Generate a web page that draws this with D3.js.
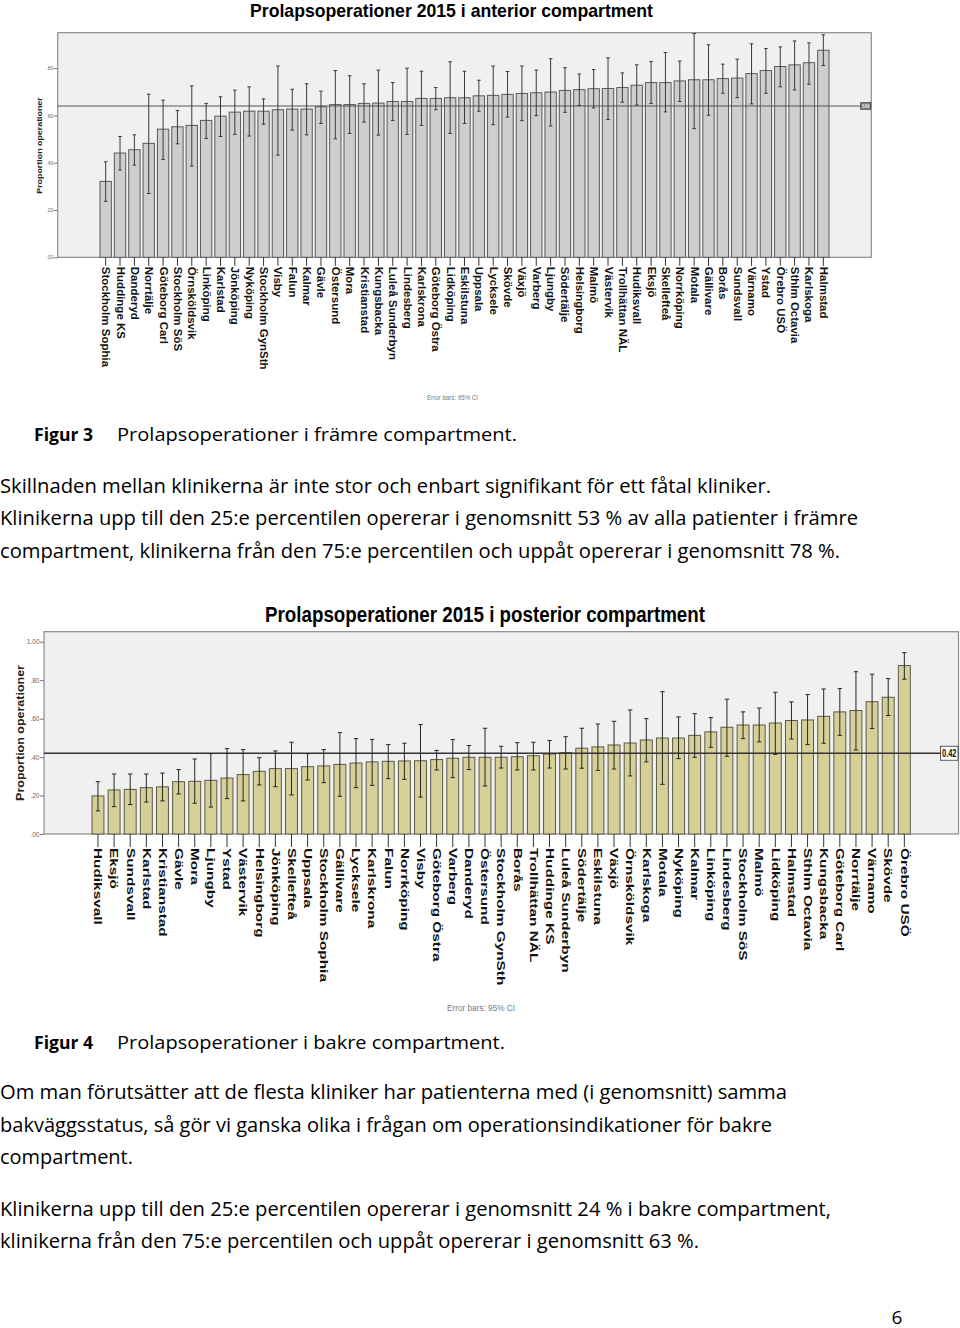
<!DOCTYPE html>
<html>
<head>
<meta charset="utf-8">
<script src="https://cdn.jsdelivr.net/npm/d3@7"></script>
<style>
  body { margin: 0; background: #fff; }
  svg { display: block; }
</style>
</head>
<body>
<svg width="960" height="1328"></svg>
<script>
////////////////////////////// DATA //////////////////////////////

// Figur 3 -- anterior compartment, sorted as in the picture
var antClinics = ['Stockholm Sophia', 'Huddinge KS', 'Danderyd', 'Norrtälje', 'Göteborg Carl', 'Stockholm SöS',
  'Örnsköldsvik', 'Linköping', 'Karlstad', 'Jönköping', 'Nyköping', 'Stockholm GynSth', 'Visby', 'Falun',
  'Kalmar', 'Gävle', 'Östersund', 'Mora', 'Kristianstad', 'Kungsbacka', 'Luleå Sunderbyn', 'Lindesberg',
  'Karlskrona', 'Göteborg Östra', 'Lidköping', 'Eskilstuna', 'Uppsala', 'Lycksele', 'Skövde', 'Växjö',
  'Varberg', 'Ljungby', 'Södertälje', 'Helsingborg', 'Malmö', 'Västervik', 'Trollhättan NÄL', 'Hudiksvall',
  'Eksjö', 'Skellefteå', 'Norrköping', 'Motala', 'Gällivare', 'Borås', 'Sundsvall', 'Värnamo', 'Ystad',
  'Örebro USÖ', 'Sthlm Octavia', 'Karlskoga', 'Halmstad'];
var antMean = [0.321, 0.441, 0.455, 0.482, 0.542, 0.552, 0.558, 0.579, 0.597, 0.614, 0.618, 0.618, 0.624,
  0.627, 0.627, 0.637, 0.646, 0.646, 0.651, 0.652, 0.659, 0.659, 0.672, 0.672, 0.675, 0.675, 0.683, 0.685,
  0.689, 0.693, 0.696, 0.699, 0.706, 0.709, 0.713, 0.714, 0.718, 0.728, 0.739, 0.739, 0.746, 0.751, 0.751,
  0.756, 0.758, 0.777, 0.790, 0.807, 0.814, 0.823, 0.876];
var antLow = [0.237, 0.369, 0.390, 0.270, 0.414, 0.480, 0.386, 0.503, 0.511, 0.520, 0.513, 0.563, 0.432,
  0.538, 0.518, 0.566, 0.501, 0.524, 0.572, 0.517, 0.579, 0.520, 0.558, 0.624, 0.524, 0.566, 0.618, 0.561,
  0.593, 0.578, 0.599, 0.555, 0.613, 0.642, 0.632, 0.583, 0.656, 0.644, 0.651, 0.615, 0.659, 0.544, 0.601,
  0.694, 0.675, 0.649, 0.694, 0.721, 0.708, 0.732, 0.811];
var antHigh = [0.404, 0.511, 0.518, 0.690, 0.665, 0.621, 0.725, 0.651, 0.679, 0.707, 0.721, 0.670, 0.809,
  0.711, 0.734, 0.703, 0.790, 0.768, 0.734, 0.792, 0.739, 0.800, 0.787, 0.718, 0.827, 0.787, 0.749, 0.809,
  0.786, 0.809, 0.792, 0.840, 0.802, 0.775, 0.794, 0.844, 0.780, 0.814, 0.828, 0.866, 0.830, 0.946, 0.899,
  0.817, 0.838, 0.903, 0.883, 0.890, 0.915, 0.907, 0.941];
var antTicks = [0, 0.2, 0.4, 0.6, 0.8];
var antRef = 0.64;

// Figur 4 -- posterior compartment
var postClinics = ['Hudiksvall', 'Eksjö', 'Sundsvall', 'Karlstad', 'Kristianstad', 'Gävle', 'Mora', 'Ljungby',
  'Ystad', 'Västervik', 'Helsingborg', 'Jönköping', 'Skellefteå', 'Uppsala', 'Stockholm Sophia', 'Gällivare',
  'Lycksele', 'Karlskrona', 'Falun', 'Norrköping', 'Visby', 'Göteborg Östra', 'Varberg', 'Danderyd',
  'Östersund', 'Stockholm GynSth', 'Borås', 'Trollhättan NÄL', 'Huddinge KS', 'Luleå Sunderbyn', 'Södertälje',
  'Eskilstuna', 'Växjö', 'Örnsköldsvik', 'Karlskoga', 'Motala', 'Nyköping', 'Kalmar', 'Linköping',
  'Lindesberg', 'Stockholm SöS', 'Malmö', 'Lidköping', 'Halmstad', 'Sthlm Octavia', 'Kungsbacka',
  'Göteborg Carl', 'Norrtälje', 'Värnamo', 'Skövde', 'Örebro USÖ'];
var postMean = [0.198, 0.229, 0.232, 0.241, 0.245, 0.272, 0.274, 0.279, 0.291, 0.309, 0.326, 0.340, 0.340,
  0.350, 0.354, 0.362, 0.369, 0.375, 0.378, 0.380, 0.381, 0.387, 0.394, 0.399, 0.399, 0.399, 0.402, 0.407,
  0.416, 0.423, 0.446, 0.453, 0.463, 0.473, 0.489, 0.499, 0.499, 0.513, 0.531, 0.555, 0.567, 0.567, 0.577,
  0.590, 0.593, 0.612, 0.635, 0.642, 0.688, 0.711, 0.876];
var postLow = [0.120, 0.142, 0.153, 0.166, 0.172, 0.208, 0.160, 0.140, 0.184, 0.172, 0.255, 0.246, 0.203,
  0.281, 0.267, 0.196, 0.241, 0.253, 0.288, 0.284, 0.192, 0.333, 0.293, 0.335, 0.250, 0.343, 0.333, 0.333,
  0.343, 0.338, 0.342, 0.331, 0.338, 0.302, 0.375, 0.258, 0.392, 0.399, 0.451, 0.404, 0.496, 0.479, 0.414,
  0.494, 0.465, 0.472, 0.513, 0.437, 0.548, 0.616, 0.805];
var postHigh = [0.272, 0.312, 0.312, 0.312, 0.317, 0.335, 0.390, 0.418, 0.444, 0.439, 0.397, 0.432, 0.477,
  0.418, 0.439, 0.527, 0.496, 0.492, 0.465, 0.472, 0.569, 0.435, 0.491, 0.460, 0.550, 0.456, 0.475, 0.477,
  0.486, 0.506, 0.550, 0.572, 0.586, 0.645, 0.600, 0.740, 0.609, 0.626, 0.605, 0.701, 0.635, 0.655, 0.737,
  0.687, 0.725, 0.754, 0.756, 0.844, 0.831, 0.808, 0.943];
var postTicks = [0, 0.2, 0.4, 0.6, 0.8, 1.0];
var postRef = 0.42;

// running text of the page
var bodyLines = [
  {t: 'Skillnaden mellan klinikerna är inte stor och enbart signifikant för ett fåtal kliniker.', y: 493, w: 771},
  {t: 'Klinikerna upp till den 25:e percentilen opererar i genomsnitt 53 % av alla patienter i främre', y: 525, w: 858},
  {t: 'compartment, klinikerna från den 75:e percentilen och uppåt opererar i genomsnitt 78 %.', y: 558, w: 840},
  {t: 'Om man förutsätter att de flesta kliniker har patienterna med (i genomsnitt) samma', y: 1099, w: 787},
  {t: 'bakväggsstatus, så gör vi ganska olika i frågan om operationsindikationer för bakre', y: 1132, w: 772},
  {t: 'compartment.', y: 1164, w: 133},
  {t: 'Klinikerna upp till den 25:e percentilen opererar i genomsnitt 24 % i bakre compartment,', y: 1216, w: 831},
  {t: 'klinikerna från den 75:e percentilen och uppåt opererar i genomsnitt 63 %.', y: 1248, w: 699}
];

var svg = d3.select('svg');
var chartFont = '"Liberation Sans", Arial, sans-serif';
var textFont = '"Open Sans", "Noto Sans", sans-serif';

////////////////////////////// CHART //////////////////////////////

function drawChart(c) {
  var data = c.clinics.map(function(name, i) {
    return {name: name, mean: c.mean[i], low: c.low[i], high: c.high[i]};
  });

  var x = d3.scaleBand().domain(c.clinics).range(c.xRange)
      .paddingInner(c.pad).paddingOuter(c.pad / 2);
  var y = d3.scaleLinear().domain([0, c.yMax]).range([c.box.bottom, c.box.top]);

  var g = svg.append('g');

  // title
  g.append('text')
    .attr('x', c.titleX).attr('y', c.titleY)
    .attr('text-anchor', 'middle')
    .attr('font-family', chartFont).attr('font-weight', 'bold')
    .attr('font-size', c.titleSize)
    .attr('textLength', c.titleW).attr('lengthAdjust', 'spacingAndGlyphs')
    .text(c.title);

  // plot frame
  g.append('rect')
    .attr('x', c.box.left).attr('y', c.box.top)
    .attr('width', c.box.right - c.box.left).attr('height', c.box.bottom - c.box.top)
    .attr('fill', '#f0f0f0').attr('stroke', '#8c8c8c').attr('stroke-width', 1.2);

  // y axis
  var yAxis = g.append('g')
    .attr('transform', 'translate(' + c.box.left + ',0)')
    .call(d3.axisLeft(y).tickValues(c.ticks).tickSize(4)
      .tickFormat(function(d) { return d3.format('.2f')(d).replace(/^0/, ''); }));
  yAxis.select('.domain').remove();
  yAxis.selectAll('line').attr('stroke', '#777');
  yAxis.selectAll('text').attr('font-family', chartFont).attr('font-size', c.tickSize)
    .attr('fill', '#666').attr('x', -4.5);

  // y label
  g.append('text')
    .attr('transform', 'translate(' + c.yLabX + ',' + c.yLabY + ') rotate(-90) scale(' + c.yLabScale + ',1)')
    .attr('text-anchor', 'middle').attr('dy', '0.35em')
    .attr('font-family', chartFont).attr('font-weight', 'bold').attr('font-size', c.yLabSize)
    .attr('fill', '#222')
    .text('Proportion operationer');

  // bars
  g.selectAll('.bar').data(data).enter().append('rect')
    .attr('class', 'bar')
    .attr('x', function(d) { return x(d.name); })
    .attr('width', x.bandwidth())
    .attr('y', function(d) { return y(d.mean); })
    .attr('height', function(d) { return y(0) - y(d.mean); })
    .attr('fill', c.fill).attr('stroke', c.stroke).attr('stroke-width', 1);

  // reference line
  g.append('line')
    .attr('x1', c.box.left).attr('x2', c.box.right)
    .attr('y1', y(c.ref)).attr('y2', y(c.ref))
    .attr('stroke', c.refColor).attr('stroke-width', c.refWidth);

  // reference label box
  var rb = g.append('g').attr('transform', 'translate(' + c.refBoxX + ',' + y(c.ref) + ')');
  rb.append('rect')
    .attr('x', 0).attr('y', -c.refBoxH / 2)
    .attr('width', c.refBoxW).attr('height', c.refBoxH)
    .attr('fill', c.refBoxFill).attr('stroke', '#333').attr('stroke-width', 0.8);
  rb.append('text')
    .attr('x', c.refBoxW / 2).attr('y', 0).attr('dy', '0.35em')
    .attr('text-anchor', 'middle')
    .attr('font-family', chartFont).attr('font-weight', 'bold').attr('font-size', c.refBoxFont)
    .attr('fill', c.refBoxText)
    .attr('textLength', c.refBoxW - 3).attr('lengthAdjust', 'spacingAndGlyphs')
    .text(d3.format('.2f')(c.ref));

  // error bars
  var eb = g.selectAll('.err').data(data).enter().append('g')
    .attr('class', 'err')
    .attr('transform', function(d) { return 'translate(' + (x(d.name) + x.bandwidth() / 2) + ',0)'; })
    .attr('stroke', c.errColor).attr('stroke-width', 1);
  eb.append('line').attr('y1', function(d) { return y(d.low); }).attr('y2', function(d) { return y(d.high); });
  eb.append('line').attr('x1', -c.cap).attr('x2', c.cap)
    .attr('y1', function(d) { return y(d.low); }).attr('y2', function(d) { return y(d.low); });
  eb.append('line').attr('x1', -c.cap).attr('x2', c.cap)
    .attr('y1', function(d) { return y(d.high); }).attr('y2', function(d) { return y(d.high); });

  // x axis with rotated clinic names
  var xAxis = g.append('g')
    .attr('transform', 'translate(0,' + c.box.bottom + ')')
    .call(d3.axisBottom(x).tickSize(c.xTick).tickSizeOuter(0).tickFormat(''));
  xAxis.select('.domain').remove();
  xAxis.selectAll('line').attr('stroke', '#333');

  g.selectAll('.xlab').data(data).enter().append('text')
    .attr('class', 'xlab')
    .attr('transform', function(d) {
      return 'translate(' + (x(d.name) + x.bandwidth() / 2) + ',' + (c.box.bottom + c.xTick + 1) +
        ') rotate(90) scale(' + c.xLabScale + ',1)';
    })
    .attr('dy', '0.35em')
    .attr('font-family', chartFont).attr('font-weight', 'bold').attr('font-size', c.xLabSize)
    .attr('fill', '#111')
    .text(function(d) { return d.name; });

  // footnote
  g.append('text')
    .attr('x', c.noteX).attr('y', c.noteY)
    .attr('font-family', chartFont).attr('font-size', c.noteSize).attr('fill', '#777')
    .attr('textLength', c.noteW).attr('lengthAdjust', 'spacingAndGlyphs')
    .text('Error bars: 95% CI');
}

drawChart({
  title: 'Prolapsoperationer 2015 i anterior compartment',
  titleX: 451.5, titleY: 17, titleSize: 18.5, titleW: 403,
  clinics: antClinics, mean: antMean, low: antLow, high: antHigh, ticks: antTicks, ref: antRef,
  box: {left: 57.7, right: 871.3, top: 32.7, bottom: 257.3},
  xRange: [98.5, 830.5], pad: 0.21, yMax: 0.95,
  fill: '#cecece', stroke: '#5a5a5a', errColor: '#3a3a3a', cap: 1.8,
  refColor: '#555', refWidth: 1,
  refBoxX: 860.7, refBoxW: 10, refBoxH: 6.5, refBoxFill: '#8a8a8a', refBoxText: '#eee', refBoxFont: 5.5,
  tickSize: 5, yLabX: 39, yLabY: 145.5, yLabSize: 7.4, yLabScale: 1.2,
  xTick: 8.5, xLabSize: 10, xLabScale: 1.15,
  noteX: 427, noteY: 399.5, noteSize: 6.5, noteW: 51
});

drawChart({
  title: 'Prolapsoperationer 2015 i posterior compartment',
  titleX: 485, titleY: 622, titleSize: 22.5, titleW: 440,
  clinics: postClinics, mean: postMean, low: postLow, high: postHigh, ticks: postTicks, ref: postRef,
  box: {left: 44, right: 958.5, top: 631.7, bottom: 834},
  xRange: [89.9, 912.4], pad: 0.26, yMax: 1.052,
  fill: '#d6cf97', stroke: '#5b5a48', errColor: '#262626', cap: 2.2,
  refColor: '#333', refWidth: 1.5,
  refBoxX: 940.5, refBoxW: 17.5, refBoxH: 14, refBoxFill: '#fff', refBoxText: '#111', refBoxFont: 10.5,
  tickSize: 6.5, yLabX: 20, yLabY: 733, yLabSize: 10, yLabScale: 1.25,
  xTick: 13, xLabSize: 10.6, xLabScale: 1.45,
  noteX: 447, noteY: 1011, noteSize: 8.5, noteW: 68
});

////////////////////////////// PAGE TEXT //////////////////////////////

function caption(label, text, y, w) {
  svg.append('text').attr('x', 34).attr('y', y)
    .attr('font-family', textFont).attr('font-weight', 'bold').attr('font-size', 17)
    .attr('textLength', 59).attr('lengthAdjust', 'spacingAndGlyphs')
    .text(label);
  svg.append('text').attr('x', 117).attr('y', y)
    .attr('font-family', textFont).attr('font-size', 19)
    .attr('textLength', w).attr('lengthAdjust', 'spacingAndGlyphs')
    .text(text);
}

caption('Figur 3', 'Prolapsoperationer i främre compartment.', 441, 400);
caption('Figur 4', 'Prolapsoperationer i bakre compartment.', 1049, 388);

svg.selectAll('.body').data(bodyLines).enter().append('text')
  .attr('class', 'body')
  .attr('x', 0).attr('y', function(d) { return d.y; })
  .attr('font-family', textFont).attr('font-size', 19.5)
  .attr('textLength', function(d) { return d.w; }).attr('lengthAdjust', 'spacingAndGlyphs')
  .text(function(d) { return d.t; });

svg.append('text').attr('x', 897).attr('y', 1324)
  .attr('text-anchor', 'middle')
  .attr('font-family', textFont).attr('font-size', 19)
  .text('6');
</script>
</body>
</html>
